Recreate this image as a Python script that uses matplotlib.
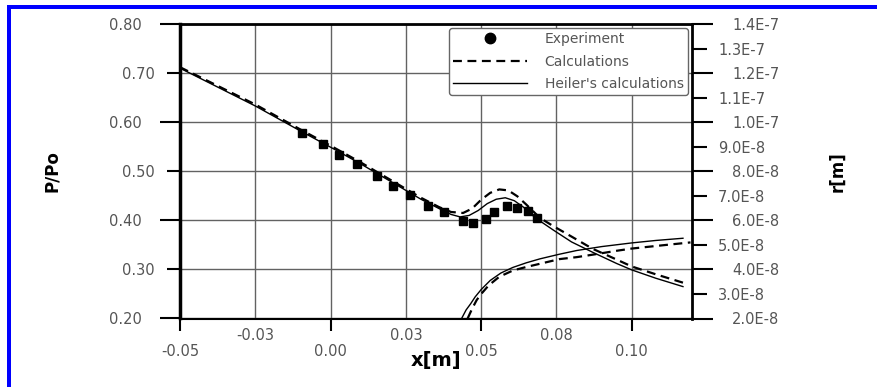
import matplotlib
matplotlib.use("Agg")
import matplotlib.pyplot as plt
from matplotlib.lines import Line2D
from matplotlib.patches import Rectangle
from matplotlib.ticker import FuncFormatter

# pressure ratio along the nozzle axis
exp_x = [-0.0096, -0.0026, 0.0029, 0.0089, 0.0153, 0.0208, 0.0264, 0.0324, 0.0377,
         0.0439, 0.0472, 0.0516, 0.0543, 0.0585, 0.0618, 0.0657, 0.0684]
exp_p = [0.577, 0.555, 0.533, 0.514, 0.491, 0.470, 0.452, 0.430, 0.416,
         0.399, 0.394, 0.402, 0.416, 0.429, 0.425, 0.418, 0.404]

calc_x = [-0.05, -0.025, -0.01, 0.0, 0.01, 0.02, 0.03, 0.036, 0.040, 0.044, 0.047, 0.050,
          0.053, 0.056, 0.059, 0.062, 0.065, 0.0695, 0.074, 0.078, 0.087, 0.095, 0.100,
          0.108, 0.117]
calc_p = [0.712, 0.636, 0.585, 0.552, 0.518, 0.482, 0.446, 0.427, 0.417, 0.415, 0.424, 0.442,
          0.456, 0.463, 0.461, 0.449, 0.432, 0.405, 0.388, 0.374, 0.342, 0.320, 0.306,
          0.290, 0.273]

heiler_x = [-0.05, -0.025, -0.01, 0.0, 0.01, 0.02, 0.03, 0.036, 0.040, 0.043, 0.046, 0.049,
            0.052, 0.055, 0.058, 0.061, 0.064, 0.068, 0.074, 0.080, 0.087, 0.095, 0.100,
            0.108, 0.117]
heiler_p = [0.710, 0.633, 0.582, 0.549, 0.515, 0.479, 0.443, 0.424, 0.412, 0.407, 0.410, 0.420,
            0.434, 0.443, 0.446, 0.440, 0.427, 0.405, 0.380, 0.356, 0.335, 0.312, 0.299,
            0.282, 0.265]

# droplet radius [m]
calc_rx = [0.0455, 0.047, 0.0485, 0.050, 0.0525, 0.056, 0.0606, 0.065, 0.0695, 0.076,
           0.0817, 0.087, 0.095, 0.100, 0.110, 0.1195]
calc_r = [2.0e-8, 2.4e-8, 2.75e-8, 3.0e-8, 3.35e-8, 3.7e-8, 3.96e-8, 4.1e-8, 4.23e-8, 4.42e-8,
          4.5e-8, 4.6e-8, 4.76e-8, 4.85e-8, 4.98e-8, 5.1e-8]

heiler_rx = [0.0435, 0.0450, 0.0465, 0.048, 0.050, 0.053, 0.0565, 0.0605, 0.065, 0.0695,
             0.076, 0.0817, 0.090, 0.100, 0.108, 0.117]
heiler_r = [2.0e-8, 2.35e-8, 2.6e-8, 2.88e-8, 3.18e-8, 3.55e-8, 3.85e-8, 4.08e-8, 4.27e-8,
            4.43e-8, 4.62e-8, 4.77e-8, 4.93e-8, 5.08e-8, 5.18e-8, 5.27e-8]

# ticks: labels alternate between two rows / columns
x_major = [-0.05, 0.0, 0.05, 0.10]
x_major_labels = ["-0.05", "0.00", "0.05", "0.10"]
x_minor = [-0.025, 0.025, 0.075]
x_minor_labels = ["-0.03", "0.03", "0.08"]
p_major = [0.2, 0.4, 0.6, 0.8]
p_minor = [0.3, 0.5, 0.7]
r_major = [2e-8, 4e-8, 6e-8, 8e-8, 1.0e-7, 1.2e-7, 1.4e-7]
r_minor = [3e-8, 5e-8, 7e-8, 9e-8, 1.1e-7, 1.3e-7]

TICK_GRAY = "#555555"
GRID_GRAY = "#626262"
TICK_SIZE = 10.5
DASHES = (4, 2.5)


def sci_label(v, _pos=None):
    mant, exp = f"{v:.1E}".split("E")
    return f"{mant}E{int(exp)}"


fig = plt.figure(figsize=(8.77, 3.87), dpi=100)
ax = fig.add_axes([180 / 877, 1 - 318.5 / 387, 512 / 877, 294.5 / 387])
ax.set_xlim(-0.05, 0.12)
ax.set_ylim(0.2, 0.8)

ax.plot(heiler_x, heiler_p, color="black", lw=1.0, zorder=3)
ax.plot(calc_x, calc_p, color="black", lw=1.6, dashes=DASHES, zorder=3)
ax.plot(exp_x, exp_p, ls="none", marker="s", ms=5.8, color="black", zorder=4)

ax.set_xticks(x_major)
ax.set_xticklabels(x_major_labels)
ax.set_xticks(x_minor, minor=True)
ax.set_xticklabels(x_minor_labels, minor=True)
ax.set_yticks(p_major)
ax.set_yticks(p_minor, minor=True)
ax.yaxis.set_major_formatter(FuncFormatter(lambda v, _p: f"{v:.2f}"))
ax.yaxis.set_minor_formatter(FuncFormatter(lambda v, _p: f"{v:.2f}"))

ax.tick_params(axis="x", which="major", direction="out", length=8.6, width=1.5,
               pad=9.5, labelsize=TICK_SIZE, labelcolor=TICK_GRAY)
ax.tick_params(axis="x", which="minor", length=0, pad=6.8,
               labelsize=TICK_SIZE, labelcolor=TICK_GRAY)
ax.tick_params(axis="y", which="major", direction="out", length=14.4, width=1.5,
               pad=13, labelsize=TICK_SIZE, labelcolor=TICK_GRAY)
ax.tick_params(axis="y", which="minor", direction="out", length=9.4, width=1.5,
               pad=8.6, labelsize=TICK_SIZE, labelcolor=TICK_GRAY)
ax.grid(True, which="both", color=GRID_GRAY, lw=1.0)
ax.set_axisbelow(True)

ax.spines["left"].set_linewidth(2.5)
ax.spines["top"].set_linewidth(2.0)
ax.spines["bottom"].set_linewidth(1.5)
ax.spines["right"].set_visible(False)

ax.set_ylabel("P/Po", fontsize=12, fontweight="bold")
ax.yaxis.set_label_coords(-0.232, 0.5)
ax.set_xlabel("x[m]", fontsize=14, fontweight="bold")
ax.xaxis.set_label_coords(0.5, -0.11)

# radius on the secondary axis
ax2 = ax.twinx()
ax2.set_ylim(2e-8, 1.4e-7)
ax2.plot(heiler_rx, heiler_r, color="black", lw=1.0)
ax2.plot(calc_rx, calc_r, color="black", lw=1.6, dashes=DASHES)
ax2.set_yticks(r_major)
ax2.set_yticks(r_minor, minor=True)
ax2.yaxis.set_major_formatter(FuncFormatter(sci_label))
ax2.yaxis.set_minor_formatter(FuncFormatter(sci_label))
ax2.tick_params(axis="y", which="major", direction="out", length=15, width=1.5,
                pad=13.8, labelsize=TICK_SIZE, labelcolor=TICK_GRAY)
ax2.tick_params(axis="y", which="minor", direction="out", length=10.8, width=1.5,
                pad=8, labelsize=TICK_SIZE, labelcolor=TICK_GRAY)
for side in ("left", "top", "bottom"):
    ax2.spines[side].set_visible(False)
ax2.spines["right"].set_linewidth(2.0)
ax2.set_ylabel("r[m]", fontsize=12, fontweight="bold")
ax2.yaxis.set_label_coords(1.266, 0.5)

handles = [
    Line2D([], [], ls="none", marker="o", ms=7.5, color="black"),
    Line2D([], [], color="black", lw=1.6, dashes=DASHES),
    Line2D([], [], color="black", lw=1.0),
]
labels = ["Experiment", "Calculations", "Heiler's calculations"]
leg = ax.legend(handles, labels, loc="upper right", bbox_to_anchor=(0.992, 0.986),
                fontsize=10, handlelength=5.3, handletextpad=1.3, labelspacing=0.6,
                borderpad=0.3, borderaxespad=0, fancybox=True, framealpha=1,
                edgecolor="#666666", labelcolor=TICK_GRAY)
leg.get_frame().set_linewidth(1.0)

# blue frame along the left and top edges
fig.add_artist(Rectangle((7 / 877, 0), 4 / 877, 1 - 5 / 387,
                         transform=fig.transFigure, color="#0000ff", lw=0))
fig.add_artist(Rectangle((7 / 877, 1 - 8.5 / 387), 1, 3.5 / 387,
                         transform=fig.transFigure, color="#0000ff", lw=0))

fig.savefig("out.png", dpi=100)
